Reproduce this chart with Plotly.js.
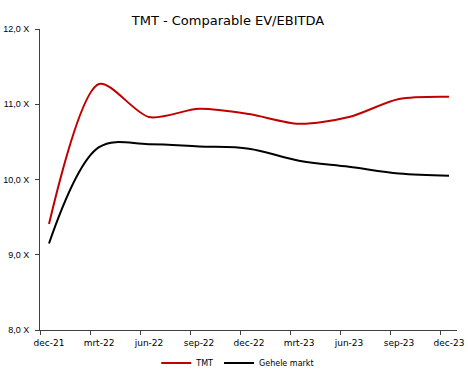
<!DOCTYPE html>
<html>
<head>
<meta charset="utf-8">
<script src="https://cdn.plot.ly/plotly-3.0.1.min.js"></script>
<style>html,body{margin:0;padding:0;background:#fff;}#chart{width:468px;height:373px;}</style>
</head>
<body>
<div id="chart"></div>
<script>
const categories = ["dec-21","mrt-22","jun-22","sep-22","dec-22","mrt-23","jun-23","sep-23","dec-23"];
const tmt = [9.41, 11.27, 10.83, 10.94, 10.87, 10.74, 10.83, 11.07, 11.10];
const markt = [9.15, 10.43, 10.47, 10.44, 10.41, 10.25, 10.17, 10.08, 10.05];
const seriesNames = ["TMT", "Gehele markt"];
const yTicks = [8, 9, 10, 11, 12];
const yTickText = yTicks.map(v => v.toFixed(1).replace('.', ',') + ' X');

const idx = categories.map((c, i) => i);
const tickOffset = -0.18;

const traces = [
  {x: idx, y: tmt, name: seriesNames[0], type: 'scatter', mode: 'lines',
   line: {color: '#C00000', width: 2, shape: 'spline', smoothing: 0.8}},
  {x: idx, y: markt, name: seriesNames[1], type: 'scatter', mode: 'lines',
   line: {color: '#000000', width: 2, shape: 'spline', smoothing: 1}}
];

const layout = {
  width: 468, height: 373,
  margin: {l: 40, r: 11, t: 29, b: 43, autoexpand: false},
  paper_bgcolor: '#fff', plot_bgcolor: '#fff',
  font: {family: 'DejaVu Sans, Verdana, sans-serif', size: 9, color: '#000'},
  title: {text: 'TMT - Comparable EV/EBITDA', font: {size: 13, color: '#000'},
          x: 0.487, xref: 'container', xanchor: 'center', y: 0.946, yref: 'container', yanchor: 'middle'},
  xaxis: {
    type: 'linear', range: [tickOffset, 8.16],
    tickvals: idx.map(i => i + tickOffset), ticktext: categories,
    ticklabelshift: 9,
    ticks: 'outside', ticklen: 4, tickcolor: '#404040', tickwidth: 1,
    showline: true, linecolor: '#404040', linewidth: 1,
    showgrid: false, zeroline: false, fixedrange: true,
    tickfont: {size: 9, color: '#000'}
  },
  yaxis: {
    range: [8, 12], tickvals: yTicks, ticktext: yTickText,
    ticks: 'outside', ticklen: 4, tickcolor: '#404040', tickwidth: 1,
    ticklabelstandoff: 4,
    showline: true, linecolor: '#404040', linewidth: 1,
    showgrid: false, zeroline: false, fixedrange: true,
    tickfont: {family: 'Liberation Sans, Arial, sans-serif', size: 9, color: '#000'}
  },
  showlegend: true,
  legend: {orientation: 'h', x: 0.508, xref: 'container', xanchor: 'center', y: 0.066, yref: 'container', yanchor: 'top',
           font: {size: 8, color: '#000'}, tracegroupgap: 0}
};

Plotly.newPlot('chart', traces, layout, {staticPlot: true, displayModeBar: false});
</script>
</body>
</html>
